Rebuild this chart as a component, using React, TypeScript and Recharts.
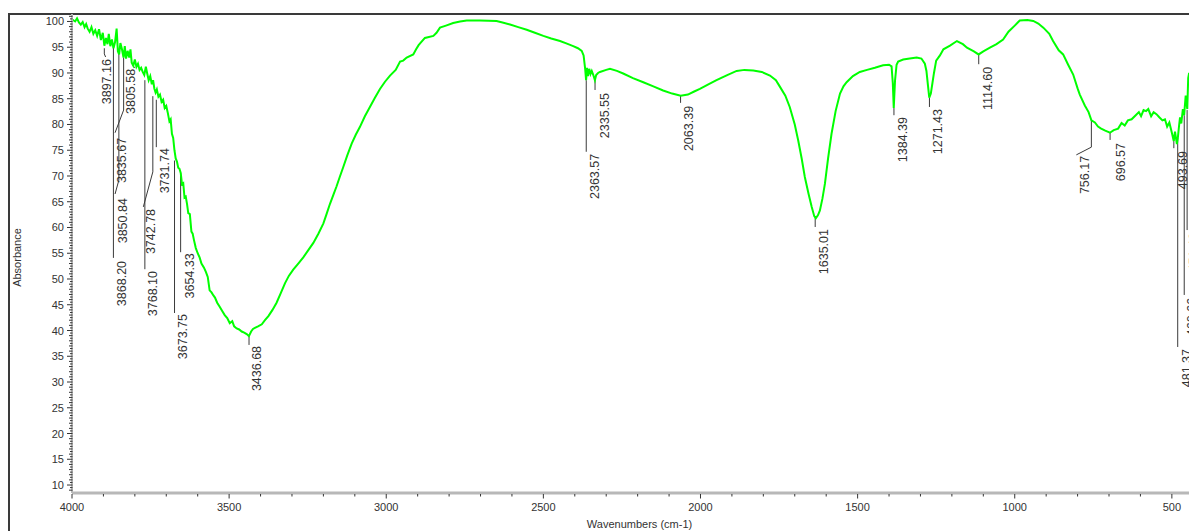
import React from 'react';
import { ComposedChart, Line, Scatter, XAxis, YAxis } from 'recharts';

const FONT = "'Liberation Sans', Arial, sans-serif";

// Spectrum (wavenumber, cm-1) and absorbance values
const waveNumbers = [
  4000, 3990, 3984, 3978, 3972, 3966, 3960, 3955, 3950, 3944,
  3938, 3932, 3926, 3920, 3914, 3908, 3902, 3897, 3892, 3887,
  3883, 3878, 3873, 3868, 3863, 3858, 3854, 3850, 3846, 3841,
  3836, 3832, 3828, 3823, 3818, 3814, 3810, 3805, 3800, 3795,
  3790, 3785, 3780, 3775, 3770, 3765, 3761, 3756, 3751, 3746,
  3742, 3738, 3734, 3730, 3725, 3720, 3715, 3710, 3705, 3700,
  3695, 3690, 3686, 3682, 3678, 3674, 3670, 3666, 3662, 3658,
  3654, 3650, 3646, 3642, 3638, 3634, 3630, 3625, 3620, 3616,
  3612, 3606, 3600, 3594, 3588, 3580, 3574, 3568, 3562, 3556,
  3550, 3545, 3538, 3530, 3522, 3514, 3506, 3498, 3490, 3484,
  3476, 3468, 3460, 3452, 3444, 3437, 3430, 3424, 3418, 3408,
  3396, 3386, 3375, 3362, 3349, 3336, 3322, 3310, 3296, 3280,
  3264, 3248, 3232, 3216, 3200, 3190, 3179, 3168, 3158, 3148,
  3137, 3124, 3110, 3097, 3084, 3068, 3052, 3036, 3020, 3004,
  2988, 2970, 2956, 2946, 2935, 2914, 2905, 2897, 2877, 2850,
  2840, 2829, 2810, 2787, 2765, 2744, 2702, 2649, 2630, 2606,
  2580, 2553, 2527, 2500, 2475, 2447, 2425, 2405, 2390, 2378,
  2372, 2367, 2364, 2361, 2358, 2354, 2350, 2346, 2341, 2336,
  2332, 2326, 2320, 2300, 2288, 2266, 2246, 2215, 2182, 2150,
  2119, 2090, 2063, 2040, 2020, 2002, 1975, 1949, 1915, 1885,
  1860, 1832, 1805, 1779, 1760, 1747, 1730, 1716, 1700, 1689,
  1678, 1668, 1656, 1646, 1638, 1633, 1626, 1620, 1612, 1604,
  1594, 1583, 1570, 1556, 1545, 1535, 1515, 1493, 1470, 1445,
  1419, 1400, 1392, 1388, 1385, 1381, 1376, 1371, 1355, 1334,
  1312, 1297, 1286, 1281, 1276, 1272, 1267, 1262, 1257, 1250,
  1238, 1227, 1206, 1184, 1165, 1152, 1130, 1115, 1100, 1079,
  1058, 1037, 1020, 1000, 984, 960, 941, 925, 909, 890,
  878, 860, 846, 830, 814, 800, 793, 777, 765, 756,
  745, 735, 725, 712, 697, 685, 671, 660, 650, 640,
  628, 615, 605, 598, 590, 582, 575, 566, 558, 549,
  540, 530, 522, 515, 508, 500, 494, 490, 484, 481,
  477, 474, 470, 465, 461, 456, 451, 448, 445, 440,
  436, 432, 428, 424, 420,
];

const absorbance = [
  100.4, 100.0, 100.6, 99.8, 99.4, 99.9, 98.9, 99.5, 98.6, 98.0,
  98.9, 97.6, 98.3, 97.2, 98.5, 96.4, 97.8, 95.3, 96.8, 95.6,
  97.6, 95.2, 96.5, 94.8, 96.0, 98.6, 94.2, 93.6, 95.8, 94.6,
  93.0, 95.2, 92.8, 94.3, 93.0, 94.6, 92.0, 91.4, 92.6, 91.2,
  91.8, 90.6, 91.0, 90.2, 89.6, 91.2, 90.0, 88.6, 89.4, 87.8,
  88.6, 87.0, 86.2, 86.8, 85.4, 85.8, 84.4, 84.8, 83.2, 83.6,
  82.2, 80.6, 81.0, 78.2, 77.4, 75.0, 73.4, 72.8, 71.6, 71.4,
  70.6, 68.4, 68.6, 65.8, 66.0, 64.6, 62.8, 62.6, 59.2, 58.8,
  57.6, 56.0, 55.0, 54.2, 53.0, 52.2, 51.4, 50.4, 47.8, 47.4,
  46.8, 46.4, 45.4, 44.6, 43.8, 43.0, 42.4, 41.4, 41.8, 40.8,
  40.4, 40.2, 39.8, 39.6, 39.3, 38.9, 39.8, 40.3, 40.5, 40.8,
  41.2, 42.0, 42.8, 44.0, 45.4, 47.2, 49.2, 50.6, 51.8, 53.0,
  54.2, 55.6, 57.0, 58.8, 60.8, 62.6, 64.6, 66.4, 68.0, 69.8,
  71.7, 74.0, 76.3, 78.0, 79.5, 81.6, 83.4, 85.2, 86.9, 88.3,
  89.5, 90.6, 92.2, 92.4, 93.0, 93.6, 94.6, 95.4, 96.8, 97.2,
  97.8, 98.8, 99.2, 99.7, 100.0, 100.2, 100.2, 100.1, 99.8, 99.4,
  98.9, 98.4, 97.8, 97.2, 96.7, 96.2, 95.7, 95.2, 94.8, 94.3,
  93.4, 90.8, 88.6, 91.0, 89.4, 90.8, 89.8, 90.4, 89.6, 88.6,
  89.6, 90.0, 90.2, 90.6, 90.8, 90.4, 89.9, 89.0, 88.2, 87.4,
  86.6, 86.0, 85.6, 85.8, 86.4, 86.9, 87.8, 88.6, 89.6, 90.4,
  90.6, 90.5, 90.2, 89.5, 88.6, 87.3, 85.6, 83.4, 80.0, 76.9,
  73.4, 69.8, 66.5, 64.0, 62.2, 61.8, 62.4, 63.3, 65.6, 68.5,
  73.4, 78.2, 82.6, 86.0, 87.4, 88.2, 89.4, 90.2, 90.6, 91.0,
  91.5, 91.6, 91.3, 88.0, 83.2, 88.5, 91.6, 92.2, 92.6, 92.8,
  93.0, 92.8, 91.8, 90.4, 87.5, 85.2, 86.0, 88.0, 90.0, 92.4,
  93.4, 94.6, 95.3, 96.2, 95.6, 94.9, 94.2, 93.6, 94.2, 94.9,
  95.6, 96.5, 98.0, 99.2, 100.2, 100.3, 100.1, 99.6, 98.8, 97.6,
  96.2, 94.4, 93.6, 91.6, 89.7, 87.0, 85.8, 83.7, 82.4, 80.8,
  80.4, 79.6, 79.2, 78.8, 78.4, 78.9, 79.2, 80.3, 79.8, 80.8,
  81.0, 81.8, 82.4, 81.6, 82.8, 82.6, 83.0, 81.6, 82.4, 82.0,
  81.4, 80.8, 81.0, 79.6, 80.4, 78.4, 76.8, 78.6, 76.2, 77.4,
  79.8, 81.4, 80.2, 83.0, 81.8, 85.6, 83.0, 89.0, 90.0, 87.8,
  88.6, 86.2, 88.0, 85.0, 84.2,
];

// Peak labels
const peakNames = [
  '3897.16', '3868.20', '3850.84', '3835.67', '3805.58', '3768.10', '3742.78', '3731.74',
  '3673.75', '3654.33', '3436.68', '2363.57', '2335.55', '2063.39', '1635.01', '1384.39',
  '1271.43', '1114.60', '756.17', '696.57', '493.69', '481.37', '460.66', '451.46',
];

// Leader lines: [wavenumber, absorbance] points from the peak down to the label
const leaderPaths = [
  [[3897.16, 94.8], [3897.16, 93.7], [3893, 93.1]],
  [[3868.2, 95.0], [3868.2, 54.1]],
  [[3850.84, 93.8], [3850.84, 69.2], [3863, 66.5]],
  [[3835.67, 93.0], [3835.67, 82.8], [3863, 78.4]],
  [[3805.58, 92.0], [3805.58, 91.4], [3800, 91.0]],
  [[3768.1, 88.6], [3768.1, 51.9]],
  [[3742.78, 85.5], [3742.78, 70.8], [3773, 64.0]],
  [[3731.74, 84.8], [3731.74, 75.6]],
  [[3673.75, 73.0], [3673.75, 43.4]],
  [[3654.33, 70.6], [3654.33, 55.2]],
  [[3436.68, 38.9], [3436.68, 37.2]],
  [[2363.57, 88.6], [2363.57, 74.7]],
  [[2335.55, 88.6], [2335.55, 86.7]],
  [[2063.39, 85.6], [2063.39, 84.2]],
  [[1635.01, 61.9], [1635.01, 60.1]],
  [[1384.39, 83.2], [1384.39, 81.8]],
  [[1271.43, 85.2], [1271.43, 83.4]],
  [[1114.6, 93.6], [1114.6, 91.7]],
  [[756.17, 80.8], [756.17, 75.6], [804, 74.1]],
  [[696.57, 78.4], [696.57, 77.0]],
  [[493.69, 77.0], [493.69, 75.4]],
  [[481.37, 77.4], [481.37, 36.8]],
  [[460.66, 81.8], [460.66, 46.9]],
  [[451.46, 82.8], [451.46, 59.5]],
];

// Label text anchors: [wavenumber of text centre, absorbance of text top]
const textAnchors = [
  [3888.6, 92.9], [3841.1, 53.7], [3838.7, 65.9], [3842.0, 77.6], [3812.3, 91.0],
  [3741.3, 51.75], [3748.0, 63.8], [3704.1, 75.6], [3645.9, 43.4], [3624.5, 55.2],
  [3411.4, 37.2], [2335.9, 74.5], [2304.1, 86.3], [2035.8, 83.8], [1607.8, 59.9],
  [1354.9, 81.65], [1243.6, 83.2], [1084.5, 91.4], [776.8, 74.1], [663.2, 76.6],
  [464.1, 75.05], [453.3, 36.6], [437.4, 46.5], [430.1, 59.1],
];

const xMajorTicks = [4000, 3500, 3000, 2500, 2000, 1500, 1000, 500];
const yMajorTicks = [100, 95, 90, 85, 80, 75, 70, 65, 60, 55, 50, 45, 40, 35, 30, 25, 20, 15, 10];

const xTicks: number[] = [];
for (let v = 4000; v >= 500; v -= 100) xTicks.push(v);
const yTicks: number[] = [];
for (let v = 9; v <= 101; v += 0.5) yTicks.push(v);

const spectrum = waveNumbers.map((x, i) => ({ x, y: absorbance[i] }));
const leaders = leaderPaths.map((path) => path.map(([x, y]) => ({ x, y })));
const labelPoints = textAnchors.map(([x, y], i) => ({ x, y, t: peakNames[i] }));

const XTick = (props: any) => {
  const { x, y, payload } = props;
  const v = payload.value;
  const major = xMajorTicks.includes(v);
  return (
    <g>
      <line x1={x} x2={x} y1={y + 1} y2={y + (major ? 5.5 : 3.5)} stroke="#333" strokeWidth={1} />
      {major && (
        <text x={x} y={y + 13.5} textAnchor="middle" dominantBaseline="central" fontSize={11} fill="#333" fontFamily={FONT}>
          {v}
        </text>
      )}
    </g>
  );
};

const YTick = (props: any) => {
  const { x, y, payload } = props;
  const v = payload.value;
  const major = yMajorTicks.includes(v);
  const len = major ? 5 : Number.isInteger(v) ? 3 : 2;
  return (
    <g>
      <line x1={x - len} x2={x + 0.5} y1={y} y2={y} stroke="#333" strokeWidth={1} />
      {major && (
        <text x={x - 8} y={y} textAnchor="end" dominantBaseline="central" fontSize={11} fill="#333" fontFamily={FONT}>
          {v}
        </text>
      )}
    </g>
  );
};

const PeakLabel = (props: any) => {
  const { cx, cy, payload } = props;
  if (cx == null || cy == null) return <g />;
  const ty = cy + 1;
  return (
    <text
      x={cx}
      y={ty}
      transform={`rotate(-90, ${cx}, ${ty})`}
      textAnchor="end"
      dominantBaseline="central"
      fontSize={12.5}
      fill="#333"
      fontFamily={FONT}
    >
      {payload.t}
    </text>
  );
};

const YTitle = (props: any) => {
  const vb = props.viewBox || { x: 0, y: 6, width: 64, height: 479 };
  const x = vb.x + 9;
  const y = vb.y + vb.height / 2 + 4;
  return (
    <text x={x} y={y} transform={`rotate(-90, ${x}, ${y})`} textAnchor="middle" dominantBaseline="central" fontSize={11} fill="#333" fontFamily={FONT}>
      Absorbance
    </text>
  );
};

const XTitle = (props: any) => {
  const vb = props.viewBox || { x: 64, y: 485, width: 1125, height: 38 };
  return (
    <text x={vb.x + vb.width / 2 + 5} y={vb.y + 31} textAnchor="middle" dominantBaseline="central" fontSize={11} fill="#333" fontFamily={FONT}>
      Wavenumbers (cm-1)
    </text>
  );
};

export default function App() {
  return (
    <div style={{ position: 'relative', width: 1189, height: 523, overflow: 'hidden', background: '#fff' }}>
      <div
        style={{
          position: 'absolute',
          left: 0,
          top: 5,
          width: 1189,
          height: 518,
          borderTop: '2px solid #3a3a3a',
          borderLeft: '2px solid #3a3a3a',
          boxSizing: 'border-box',
        }}
      />
      <div style={{ position: 'absolute', left: 0, top: 0 }}>
        <ComposedChart width={1189} height={523} margin={{ top: 6, right: 0, bottom: 0, left: 0 }}>
          <XAxis
            type="number"
            dataKey="x"
            domain={[420, 4000]}
            reversed
            allowDataOverflow
            ticks={xTicks}
            interval={0}
            tick={<XTick />}
            tickLine={false}
            tickSize={0}
            tickMargin={0}
            axisLine={{ stroke: '#b8b8b8', strokeWidth: 3 }}
            height={38}
            label={(p: any) => <XTitle {...p} />}
          />
          <YAxis
            type="number"
            dataKey="y"
            domain={[8.45, 101.45]}
            allowDataOverflow
            ticks={yTicks}
            interval={0}
            tick={<YTick />}
            tickLine={false}
            tickSize={0}
            tickMargin={0}
            axisLine={{ stroke: '#b8b8b8', strokeWidth: 2 }}
            width={64}
            label={(p: any) => <YTitle {...p} />}
          />
          {leaders.map((pts, i) => (
            <Line
              key={'lead' + i}
              data={pts}
              dataKey="y"
              type="linear"
              stroke="#3a3a3a"
              strokeWidth={1}
              dot={false}
              activeDot={false}
              isAnimationActive={false}
            />
          ))}
          <Line
            data={spectrum}
            dataKey="y"
            type="linear"
            stroke="#00ff00"
            strokeWidth={2}
            dot={false}
            activeDot={false}
            isAnimationActive={false}
          />
          <Scatter data={labelPoints} dataKey="y" shape={(p: any) => <PeakLabel {...p} />} isAnimationActive={false} />
        </ComposedChart>
      </div>
    </div>
  );
}
